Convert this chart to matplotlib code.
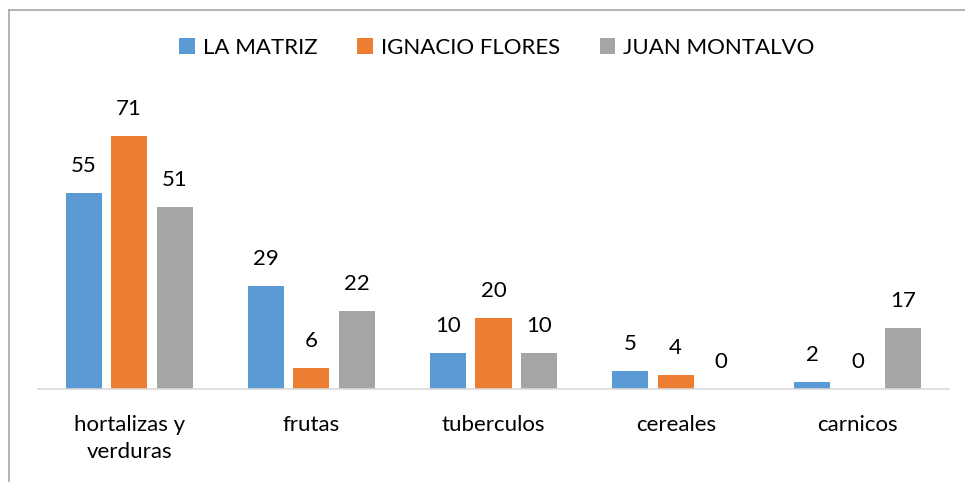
import matplotlib
matplotlib.use("Agg")
import matplotlib.pyplot as plt
import numpy as np
from matplotlib.lines import Line2D

categories = ["hortalizas y\nverduras", "frutas", "tuberculos", "cereales", "carnicos"]
series_names = ["LA MATRIZ", "IGNACIO FLORES", "JUAN MONTALVO"]
la_matriz = [55, 29, 10, 5, 2]
ignacio_flores = [71, 6, 20, 4, 0]
juan_montalvo = [51, 22, 10, 0, 17]
colors = ["#5B9BD5", "#ED7D31", "#A5A5A5"]

plt.rcParams['font.family'] = ['Lato', 'DejaVu Sans']

W, H = 965, 482
fig = plt.figure(figsize=(W/100, H/100), dpi=100)
fig.patch.set_facecolor("white")

# outer border (left and top visible)
fig.add_artist(Line2D([9/W, 9/W], [0, 1 - 10/H], transform=fig.transFigure, color="#a6a6a6", lw=1.2))
fig.add_artist(Line2D([9/W, 1], [1 - 10/H, 1 - 10/H], transform=fig.transFigure, color="#a6a6a6", lw=1.2))

left, right = 38/W, 949/W
base = 389
ymax = 80
ppu = (389 - 136) / 71
top = base - ymax * ppu
ax = fig.add_axes([left, 1 - base/H, right - left, (base - top)/H])

x = np.arange(len(categories))
bw = 0.198
offs = [-0.25, 0, 0.25]
data = [la_matriz, ignacio_flores, juan_montalvo]
for d, o, c, n in zip(data, offs, colors, series_names):
    ax.bar(x + o, d, width=bw, color=c, label=n, zorder=2)
    for xi, v in zip(x + o, d):
        ax.text(xi, v + 7.6, str(v), ha="center", va="center", fontsize=16, color="#000000")

ax.set_xlim(-0.5, len(categories) - 0.5)
ax.set_ylim(0, ymax)
ax.set_yticks([])
ax.set_xticks(x)
ax.set_xticklabels(categories, fontsize=16, linespacing=1.4)
ax.tick_params(axis="x", length=0, pad=19)
for s in ["top", "right", "left"]:
    ax.spines[s].set_visible(False)
ax.spines["bottom"].set_color("#d9d9d9")
ax.spines["bottom"].set_linewidth(1.2)

fig.legend(loc="center", bbox_to_anchor=(497/W, 1 - 48/H), ncol=3, frameon=False,
           fontsize=16, handlelength=0.7, handleheight=0.7, handletextpad=0.35,
           columnspacing=1.8)

fig.savefig("out.png", dpi=100, facecolor="white")
